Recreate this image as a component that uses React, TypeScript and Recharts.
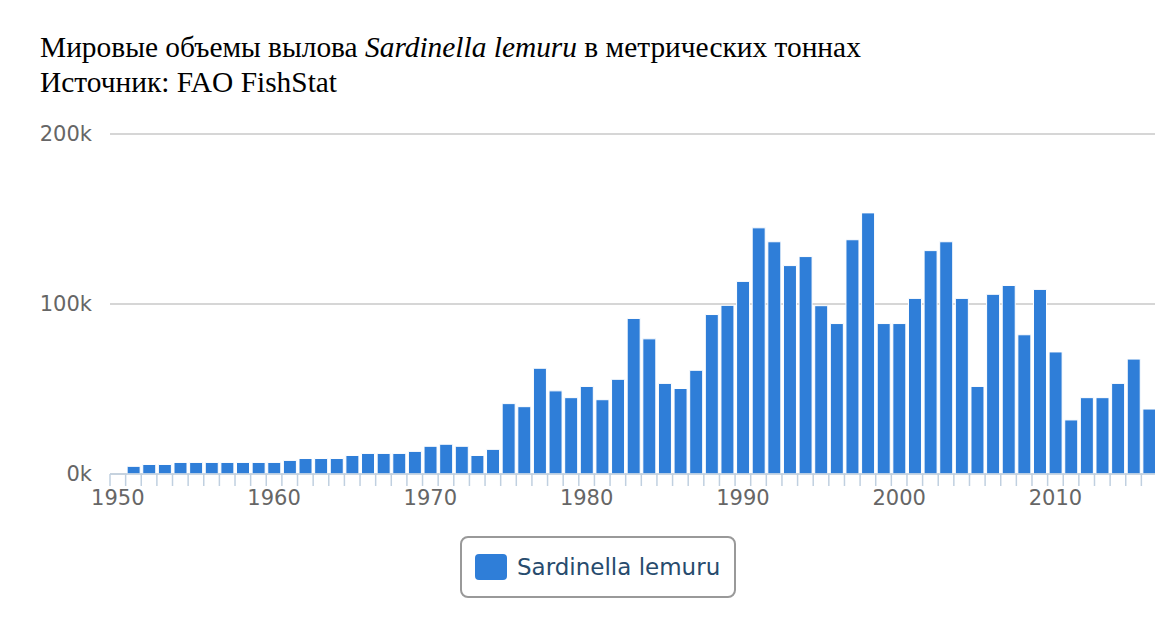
import React from 'react';
import { BarChart, Bar, XAxis, YAxis, CartesianGrid } from 'recharts';

const years: number[] = [
  1950, 1951, 1952, 1953, 1954, 1955, 1956, 1957, 1958, 1959,
  1960, 1961, 1962, 1963, 1964, 1965, 1966, 1967, 1968, 1969,
  1970, 1971, 1972, 1973, 1974, 1975, 1976, 1977, 1978, 1979,
  1980, 1981, 1982, 1983, 1984, 1985, 1986, 1987, 1988, 1989,
  1990, 1991, 1992, 1993, 1994, 1995, 1996, 1997, 1998, 1999,
  2000, 2001, 2002, 2003, 2004, 2005, 2006, 2007, 2008, 2009,
  2010, 2011, 2012, 2013, 2014, 2015, 2016,
];

const catches: (number | null)[] = [
  null, 4500, 5600, 5600, 6800, 6800, 6800, 6800, 6800, 6800,
  6800, 8000, 9100, 9100, 9100, 10900, 12100, 12100, 12100, 13300,
  16300, 17500, 16300, 10900, 14500, 41400, 39600, 62200, 48900, 44900,
  51500, 43700, 55700, 91500, 79500, 53300, 50300, 61000, 93800, 99200,
  113300, 144800, 136600, 122600, 127900, 99000, 88500, 137800, 153600, 88500,
  88500, 103300, 131400, 136600, 103300, 51500, 105700, 110900, 81900, 108600,
  71800, 31800, 44900, 44900, 53300, 67600, 38200,
];

const yTicks = [0, 100000, 200000];
const labelledYears = [1950, 1960, 1970, 1980, 1990, 2000, 2010];
const seriesName = 'Sardinella lemuru';

const data = years.map((year, i) => ({ year, value: catches[i] }));

const BAR_COLOR = '#2f7ed8';
const AXIS_COLOR = '#C0D0E0';
const SANS = '"DejaVu Sans", sans-serif';

const CHART_W = 1155;
const MARGIN = { top: 126, right: 6, bottom: 0, left: 0 };
const Y_AXIS_W = 102;
const PLOT_W = CHART_W - MARGIN.left - MARGIN.right - Y_AXIS_W;

const XTick = (props: any) => {
  const { x, y, payload, index } = props;
  const half = typeof payload?.offset === 'number' && payload.offset > 0 ? payload.offset : PLOT_W / years.length / 2;
  const year = payload.value;
  return (
    <g>
      <line x1={x - half} x2={x - half} y1={y} y2={y + 12} stroke={AXIS_COLOR} strokeWidth={1.5} />
      {index === years.length - 1 && (
        <line x1={x + half} x2={x + half} y1={y} y2={y + 12} stroke={AXIS_COLOR} strokeWidth={1.5} />
      )}
      {labelledYears.includes(year) && (
        <text x={x} y={y + 31} textAnchor="middle" fill="#666" fontSize={21} fontFamily={SANS}>
          {year}
        </text>
      )}
    </g>
  );
};

export default function App() {
  return (
    <div style={{ position: 'relative', width: 1155, height: 612 }}>
      <div
        style={{
          position: 'absolute',
          left: 32,
          top: 22,
          fontFamily: '"Liberation Serif", serif',
          fontSize: 29.4,
          lineHeight: '35px',
          color: '#000',
          whiteSpace: 'nowrap',
        }}
      >
        <div>
          Мировые объемы вылова <i>Sardinella lemuru</i> в метрических тоннах
        </div>
        <div>Источник: FAO FishStat</div>
      </div>
      <div style={{ position: 'absolute', left: 0, top: 0 }}>
        <BarChart width={CHART_W} height={506} data={data} margin={MARGIN} barCategoryGap={1.5}>
          <CartesianGrid vertical={false} stroke="#C8C8C8" strokeWidth={1.5} />
          <XAxis
            dataKey="year"
            type="category"
            height={40}
            interval={0}
            tickLine={false}
            tickSize={0}
            tickMargin={0}
            axisLine={{ stroke: AXIS_COLOR, strokeWidth: 1.5 }}
            tick={<XTick />}
          />
          <YAxis
            width={Y_AXIS_W}
            domain={[0, 200000]}
            ticks={yTicks}
            axisLine={false}
            tickLine={false}
            tickSize={0}
            tickMargin={18}
            tickFormatter={(v: number) => `${v / 1000}k`}
            tick={{ fill: '#666', fontSize: 21, fontFamily: SANS }}
          />
          <Bar
            dataKey="value"
            name={seriesName}
            fill={BAR_COLOR}
            stroke="#ffffff"
            strokeWidth={1}
            isAnimationActive={false}
          />
        </BarChart>
      </div>
      <div
        style={{
          position: 'absolute',
          left: 452,
          top: 528,
          width: 276,
          height: 62,
          boxSizing: 'border-box',
          border: '2px solid #999',
          borderRadius: 8,
          display: 'flex',
          alignItems: 'center',
          paddingLeft: 13,
          fontFamily: SANS,
          fontSize: 23,
          color: '#274b6d',
        }}
      >
        <span
          style={{
            display: 'inline-block',
            width: 32,
            height: 26,
            borderRadius: 4,
            background: BAR_COLOR,
            marginRight: 10,
          }}
        />
        <span>{seriesName}</span>
      </div>
    </div>
  );
}
